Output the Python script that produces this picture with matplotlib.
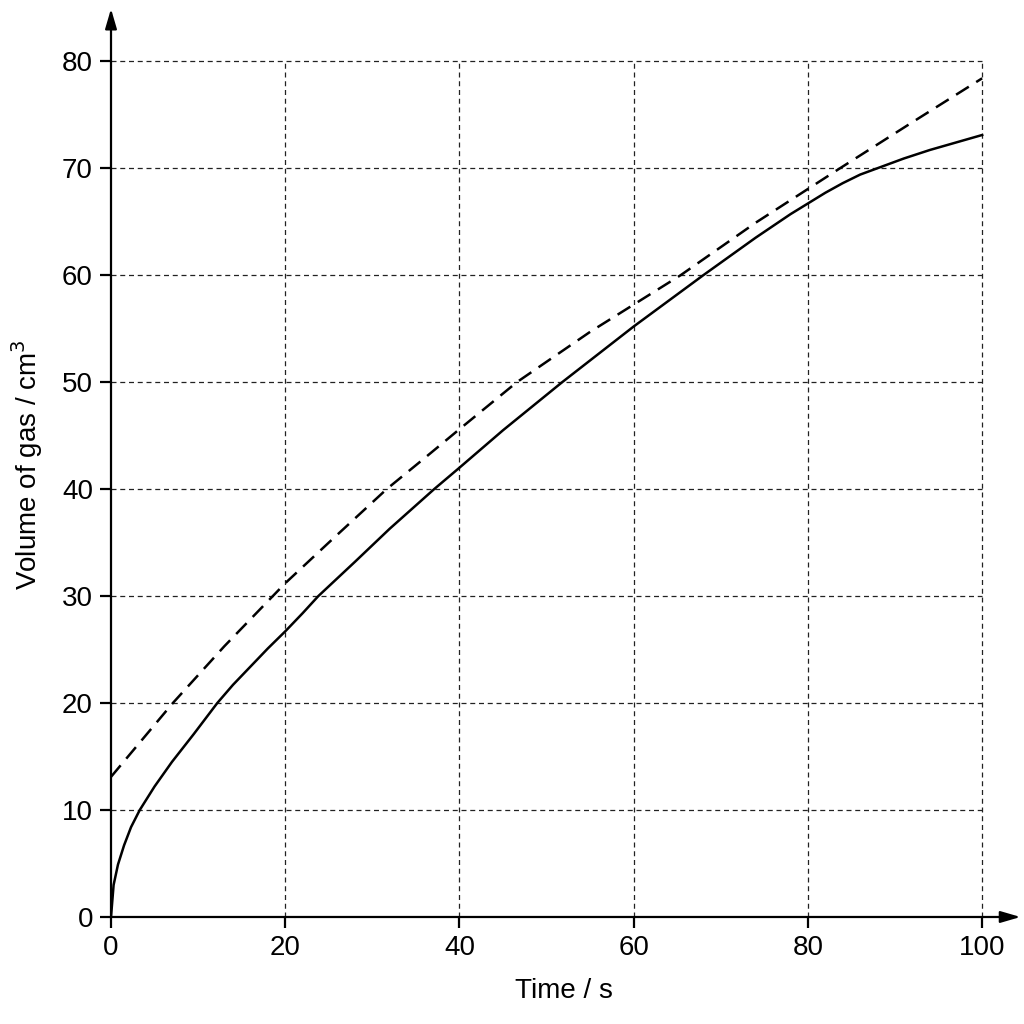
import numpy as np
import matplotlib.pyplot as plt

plt.rcParams['font.family'] = ['Liberation Sans Narrow', 'Liberation Sans', 'DejaVu Sans']

t_solid = [0, 0.3, 0.8, 1.5, 2.3, 3.3, 5, 7, 9.5, 12.2, 14, 16, 18, 20, 22, 23.8, 28, 32, 37.1,
           40, 45, 51.8, 60, 68, 74, 78, 80, 82, 84, 86, 89, 91, 94, 97, 100]
v_solid = [0, 3.0, 4.9, 6.7, 8.4, 10, 12.2, 14.5, 17.1, 20, 21.7, 23.4, 25.1, 26.7, 28.4,
           30, 33.2, 36.3, 40, 42.0, 45.5, 50, 55.2, 60, 63.5, 65.7, 66.7, 67.7,
           68.6, 69.4, 70.3, 70.9, 71.7, 72.4, 73.1]

t_dash = [0, 7.1, 13, 20, 25, 31.65, 36, 40, 46.6, 55, 65.4, 74, 83.7, 92, 100]
v_dash = [13.1, 20, 25.3, 31.2, 35.0, 40, 42.9, 45.6, 50, 54.7, 60, 64.9, 70, 74.3, 78.4]

xticks = [0, 20, 40, 60, 80, 100]
yticks = [0, 10, 20, 30, 40, 50, 60, 70, 80]

fig = plt.figure(figsize=(10.24, 10.24), dpi=100)
ax = fig.add_axes([0.1084, 0.1045, 0.8856, 0.8838])
ax.set_xlim(0, 104.1)
ax.set_ylim(0, 84.6)

# grid only up to the last ticks
for y in yticks[1:]:
    ax.plot([0, 100], [y, y], color='#222222', lw=0.9, ls=(0, (4, 3)), zorder=1)
for x in xticks[1:]:
    ax.plot([x, x], [0, 80], color='#222222', lw=0.9, ls=(0, (4, 3)), zorder=1)

ax.plot(t_solid, v_solid, color='black', lw=1.8, zorder=3)
ax.plot(t_dash, v_dash, color='black', lw=1.8, ls=(0, (6, 3.5)), zorder=3)

for s in ax.spines.values():
    s.set_visible(False)
arr = dict(arrowstyle='-|>,head_length=1.2,head_width=0.35', color='black', lw=1.6,
           shrinkA=0, shrinkB=0)
ax.annotate('', xy=(104.4, 0), xytext=(0, 0), arrowprops=arr, annotation_clip=False)
ax.annotate('', xy=(0, 84.9), xytext=(0, 0), arrowprops=arr, annotation_clip=False)

ax.set_xticks(xticks)
ax.set_yticks(yticks)
ax.tick_params(direction='out', length=8, width=1.6, labelsize=20, pad=5)
ax.set_xlabel('Time / s', fontsize=20, labelpad=12)
ax.set_ylabel('Volume of gas / cm$^3$', fontsize=20, labelpad=12)

fig.savefig('out.png', dpi=100, facecolor='white')
